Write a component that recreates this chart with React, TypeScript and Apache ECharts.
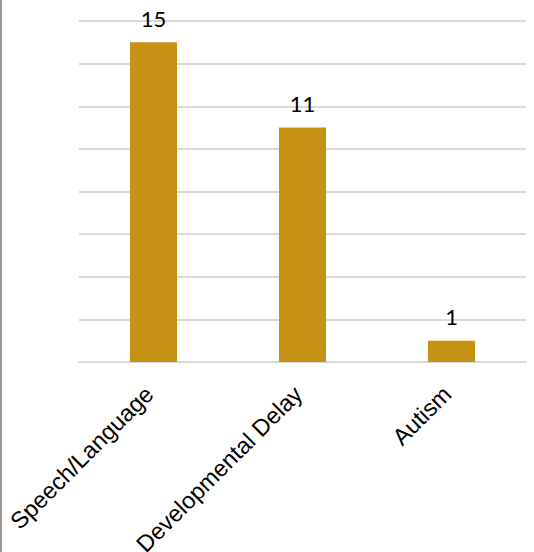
import React, { useEffect, useRef } from "react";
import * as echarts from "echarts";

const categories = ["Speech/Language", "Developmental Delay", "Autism"];
const values = [15, 11, 1];

export default function App() {
  const ref = useRef<HTMLDivElement>(null);
  useEffect(() => {
    document.body.style.margin = "0";
    const chart = echarts.init(ref.current!, null, { renderer: "svg" });
    chart.setOption({
      animation: false,
      backgroundColor: "#ffffff",
      grid: {
        left: 79,
        right: 8,
        top: 21,
        bottom: 190,
        containLabel: false,
        outerBoundsMode: "none",
      },
      xAxis: {
        type: "category",
        data: categories,
        axisLine: { lineStyle: { color: "#d9d9d9", width: 2 } },
        axisTick: { show: false },
        axisLabel: {
          rotate: 45,
          interval: 0,
          margin: 24,
          padding: [0, 6, 0, 0],
          fontFamily: "Liberation Sans",
          fontSize: 23.5,
          color: "#000000",
        },
      },
      yAxis: {
        type: "value",
        min: 0,
        max: 16,
        interval: 2,
        axisLabel: { show: false },
        axisLine: { show: false },
        axisTick: { show: false },
        splitLine: { lineStyle: { color: "#d9d9d9", width: 2 } },
      },
      series: [
        {
          type: "bar",
          data: values,
          barWidth: 47,
          itemStyle: { color: "#C59214" },
          label: {
            show: true,
            position: "top",
            distance: 13,
            fontFamily: "Lato",
            fontSize: 22,
            color: "#000000",
          },
        },
      ],
      graphic: [
        {
          type: "rect",
          left: 0,
          top: 0,
          shape: { width: 2, height: 552 },
          style: { fill: "#a09696" },
        },
      ],
    });
    return () => chart.dispose();
  }, []);
  return <div ref={ref} style={{ width: 534, height: 552 }} />;
}
